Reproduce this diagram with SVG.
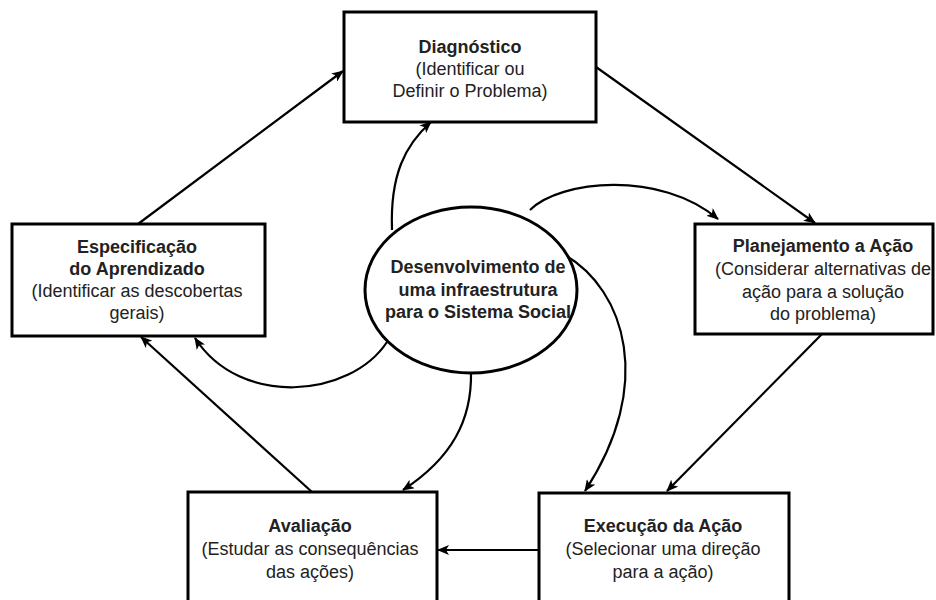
<svg xmlns="http://www.w3.org/2000/svg" width="936" height="600" viewBox="0 0 936 600">
  <style>
    .box { fill: #ffffff; stroke: #000000; stroke-width: 3; }
    .hub { fill: #ffffff; stroke: #000000; stroke-width: 3; }
    .t { font-family: "Liberation Sans", Arial, sans-serif; font-size: 18px; fill: #222222; text-anchor: middle; }
    .b { font-weight: bold; }
    .edge { fill: none; stroke: #000000; stroke-width: 2.2; marker-end: url(#arrow); }
  </style>
  <defs>
    <marker id="arrow" viewBox="0 0 12 10" refX="11" refY="5" markerWidth="12" markerHeight="10" markerUnits="userSpaceOnUse" orient="auto">
      <path d="M0,0 L12,5 L0,10 L3,5 z" fill="#000000"/>
    </marker>
  </defs>
  <rect width="936" height="600" fill="#ffffff"/>

  <g id="connectors">
    <!-- cycle: straight links between the outer boxes -->
    <path class="edge" d="M138,224 L343,71"/>
    <path class="edge" d="M596,67 L815,223"/>
    <path class="edge" d="M822,334 L667,491"/>
    <path class="edge" d="M539,550 L438,550"/>
    <path class="edge" d="M312,492 L141,337"/>
    <!-- curved links from the central ellipse -->
    <path class="edge" d="M392,230 C390,175 405,145 431,122"/>
    <path class="edge" d="M530,210 C560,180 660,170 718,219"/>
    <path class="edge" d="M387,342 C350,398 240,408 195,338"/>
    <path class="edge" d="M471,372 C472,420 452,458 403,490"/>
    <path class="edge" d="M565,255 C625,290 655,385 585,491"/>
  </g>

  <g id="diagnostico">
    <rect class="box" x="344" y="12" width="252" height="110"/>
    <text class="t b" x="470" y="53">Diagnóstico</text>
    <text class="t" x="470" y="75">(Identificar ou</text>
    <text class="t" x="470" y="97">Definir o Problema)</text>
  </g>

  <g id="especificacao">
    <rect class="box" x="12" y="224" width="253" height="112"/>
    <text class="t b" x="137" y="253">Especificação</text>
    <text class="t b" x="137" y="275">do Aprendizado</text>
    <text class="t" x="137" y="297">(Identificar as descobertas</text>
    <text class="t" x="137" y="319">gerais)</text>
  </g>

  <g id="planejamento">
    <rect class="box" x="695" y="224" width="238" height="110"/>
    <text class="t b" x="823" y="252">Planejamento a Ação</text>
    <text class="t" x="823" y="275">(Considerar alternativas de</text>
    <text class="t" x="823" y="298">ação para a solução</text>
    <text class="t" x="823" y="320">do problema)</text>
  </g>

  <g id="avaliacao">
    <rect class="box" x="188" y="492" width="249" height="120"/>
    <text class="t b" x="310" y="532">Avaliação</text>
    <text class="t" x="310" y="555">(Estudar as consequências</text>
    <text class="t" x="310" y="578">das ações)</text>
  </g>

  <g id="execucao">
    <rect class="box" x="539" y="493" width="250" height="120"/>
    <text class="t b" x="663" y="532">Execução da Ação</text>
    <text class="t" x="663" y="555">(Selecionar uma direção</text>
    <text class="t" x="663" y="578">para a ação)</text>
  </g>

  <g id="infraestrutura">
    <ellipse class="hub" cx="471" cy="290" rx="106" ry="83"/>
    <text class="t b" x="478" y="273">Desenvolvimento de</text>
    <text class="t b" x="478" y="296">uma infraestrutura</text>
    <text class="t b" x="478" y="318">para o Sistema Social</text>
  </g>
</svg>
